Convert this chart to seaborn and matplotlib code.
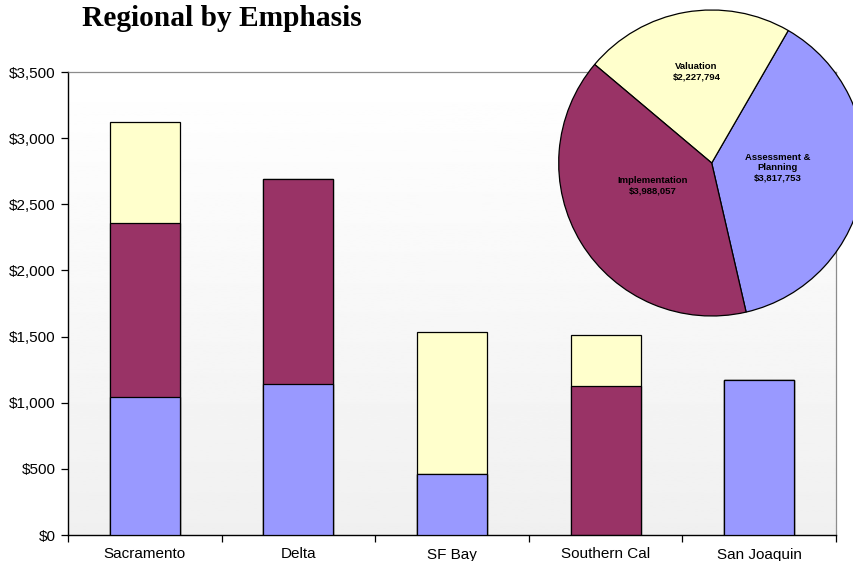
import numpy as np
import pandas as pd
import matplotlib
matplotlib.use("Agg")
import matplotlib.pyplot as plt
import seaborn as sns

# Funding by region (thousands of dollars), split by emphasis
regions = ["Sacramento", "Delta", "SF Bay", "Southern Cal", "San Joaquin"]
assessment = [1046, 1140, 463, 0, 1169]
implementation = [1313, 1551, 0, 1124, 0]
valuation = [762, 0, 1075, 391, 0]

# Statewide totals by emphasis (dollars)
pie_names = ["Assessment &\nPlanning", "Valuation", "Implementation"]
pie_totals = [3817753, 2227794, 3988057]

y_ticks = [0, 500, 1000, 1500, 2000, 2500, 3000, 3500]

c_blue = "#9999FF"
c_maroon = "#993366"
c_yellow = "#FFFFCC"

sns.set_theme(style="white")
plt.rcParams["font.family"] = ["Liberation Sans", "DejaVu Sans"]

W, H = 854, 561
fig = plt.figure(figsize=(W / 100, H / 100), dpi=100)

left, right, top, bottom = 68, 836, 72, 535
ax = fig.add_axes([left / W, 1 - bottom / H, (right - left) / W, (bottom - top) / H])

df = pd.DataFrame({
    "region": regions,
    "a": assessment,
    "i": implementation,
    "v": valuation,
})
df["cum_a"] = df["a"]
df["cum_i"] = df["a"] + df["i"]
df["cum_v"] = df["a"] + df["i"] + df["v"]

# stacked bars drawn as overlapping cumulative totals
bar_kw = dict(width=0.456, edgecolor="black", linewidth=0.9, saturation=1, errorbar=None)
sns.barplot(data=df, x="region", y="cum_v", color=c_yellow, ax=ax, zorder=2, **bar_kw)
sns.barplot(data=df, x="region", y="cum_i", color=c_maroon, ax=ax, zorder=3, **bar_kw)
sns.barplot(data=df, x="region", y="cum_a", color=c_blue, ax=ax, zorder=4, **bar_kw)

ax.set_xlim(-0.5, len(regions) - 0.5)
ax.set_ylim(0, 3500)
ax.set_yticks(y_ticks)
ax.set_yticklabels([f"${v:,}" for v in y_ticks], fontsize=11)
ax.set_xticks(range(len(regions)))
ax.set_xticklabels(regions, fontsize=11)
ax.set_xlabel("")
ax.set_ylabel("")

# category boundary ticks on the x axis
ax.set_xticks(np.arange(-0.5, len(regions)), minor=True)
ax.tick_params(axis="x", which="major", length=0, pad=9, colors="black")
ax.tick_params(axis="x", which="minor", length=5, width=0.9, color="black", bottom=True, direction="out")
ax.tick_params(axis="y", which="major", length=5, width=0.9, color="black", left=True, pad=4, colors="black")
for lab in ax.get_yticklabels() + ax.get_xticklabels():
    lab.set_color("black")

# soft vertical gradient in the plot area
grad = np.linspace(0.94, 1.0, 256).reshape(-1, 1)
ax.imshow(grad, cmap="gray", vmin=0, vmax=1, aspect="auto",
          extent=[-0.5, len(regions) - 0.5, 0, 3500], origin="lower", zorder=0)

for s in ["left", "bottom"]:
    ax.spines[s].set_color("black")
    ax.spines[s].set_linewidth(1.0)
for s in ["top", "right"]:
    ax.spines[s].set_color("#8c8c8c")
    ax.spines[s].set_linewidth(0.9)
ax.set_axisbelow(False)

# title
fig.text(82 / W, 1 - 26 / H, "Regional by Emphasis", family="Liberation Serif",
         fontsize=21.2, fontweight="bold", ha="left", va="baseline", color="black")

# inset pie of statewide totals
cx, cy, r = 711.7, 163, 153
pax = fig.add_axes([(cx - r) / W, 1 - (cy + r) / H, 2 * r / W, 2 * r / H])
pax.pie(pie_totals, colors=[c_blue, c_yellow, c_maroon], startangle=-77,
        counterclock=True, radius=1,
        wedgeprops=dict(edgecolor="black", linewidth=0.9))
pax.set_xlim(-1, 1)
pax.set_ylim(-1, 1)
pax.set_aspect("auto")
pax.patch.set_alpha(0)
pax.axis("off")

label_pos = [(0.43, -0.03), (-0.10, 0.595), (-0.385, -0.15)]
for name, val, (lx, ly) in zip(pie_names, pie_totals, label_pos):
    pax.text(lx, ly, f"{name}\n${val:,}", ha="center", va="center",
             fontsize=6.8, fontweight="bold", color="black", linespacing=1.15)

fig.savefig("out.png", dpi=100)
